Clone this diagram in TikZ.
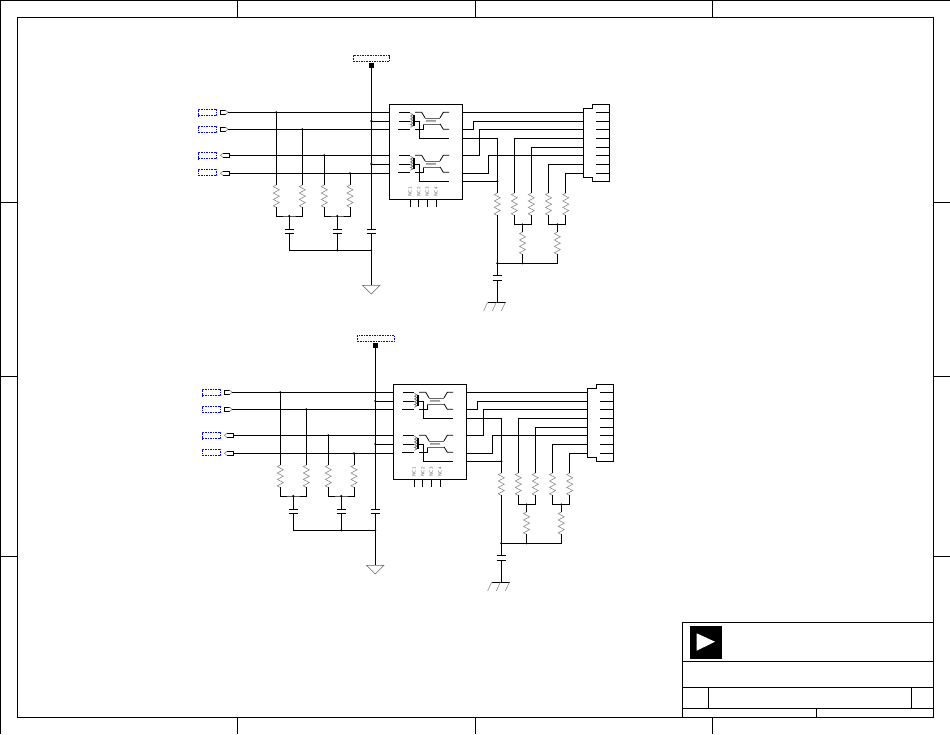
\documentclass[tikz,border=0pt]{standalone}
\tikzset{
  wire/.style={draw=black,line width=0.95pt},
  thin wire/.style={draw=black,line width=0.8pt},
  zig/.style={draw=black!45,line width=0.6pt,line join=miter},
  coil/.style={draw=black!60,line width=0.6pt},
  blue label/.style={draw=blue,dashed,dash pattern=on 1.6pt off 1pt,line width=0.7pt,inner sep=0pt,outer sep=0pt,anchor=north west},
  icbox/.style={draw=black,line width=0.95pt,inner sep=0pt,outer sep=0pt,minimum width=73pt,minimum height=95pt,anchor=north west},
  dot/.style={circle,fill=black,inner sep=0pt,minimum size=2.4pt},
  plate/.style={draw=black,line width=1pt},
  nctext/.style={rotate=90,text=black!60,inner sep=0pt,font=\sffamily\fontsize{4.8}{5}\selectfont}
}
% resistor: name, x, y top (22.4 tall)
\newcommand{\resistor}[3]{%
  \coordinate (#1-t) at (#2,#3);
  \coordinate (#1-b) at (#2,#3+22.4);
  \draw[zig] (#1-t) -- ++(-3,1.6) -- ++(6,3.2) -- ++(-6,3.2) -- ++(6,3.2) -- ++(-6,3.2) -- ++(6,3.2) -- ++(-6,3.2) -- (#1-b);
}
% transformer: y of top line
\newcommand{\xfmr}[1]{%
  \draw[thin wire] (399.3,#1) -- (410,#1);
  \draw[thin wire] (399.3,#1+8.7) -- (410,#1+8.7);
  \draw[thin wire] (398.3,#1+17) -- (410,#1+17);
  \draw[coil] (410.5,#1+1) -- ++(2.4,1.4) -- ++(-2.4,1.4) -- ++(2.4,1.4) -- ++(-2.4,1.4) -- ++(2.4,1.4) -- ++(-2.4,1.4) -- ++(2.4,1.4) -- ++(-2.4,1.4) -- ++(2.4,1.4) -- ++(-2.4,1.4);
  \draw[draw=black,line width=1.3pt] (413.9,#1+3) -- (413.9,#1+14);
  \draw[thin wire] (415,#1) -- (421.7,#1) -- (425,#1+5.5);
  \draw[coil] (425,#1+5.5) -- (440,#1+5.5);
  \draw[thin wire] (440,#1+5.5) -- (443.3,#1) -- (449,#1);
  \draw[thin wire] (415,#1+8.7) -- (419.3,#1+8.7) -- (419.3,#1+26) -- (449,#1+26);
  \draw[thin wire] (415,#1+17) -- (423,#1+17) -- (423,#1+11.5);
  \draw[coil] (423,#1+11.5) -- (440,#1+11.5);
  \draw[thin wire] (440,#1+11.5) -- (443.3,#1+17) -- (449,#1+17);
  \draw[coil,line width=.5pt] (426,#1+9.4) -- ++(1,-1.6) -- ++(1,1.6) -- ++(1,-1.6) -- ++(1,1.6) -- ++(1,-1.6) -- ++(1,1.6) -- ++(1,-1.6) -- ++(1,1.6) -- ++(1,-1.6) -- ++(1,1.6);
}
% input port: name, wire y, label centre y
\newcommand{\portR}[3]{%
  \node[blue label,minimum width=18.4pt,minimum height=6.4pt] (#1-lab) at (198.3,#3-3.2) {};
  \coordinate (#1-p) at (228.3,#2);
  \draw[thin wire] (225.5,#2-2) -- (220.3,#2-2) -- (220.3,#2+2) -- (225.5,#2+2);
  \draw[zig] (225.5,#2-2) -- (#1-p) -- (225.5,#2+2);
}
\newcommand{\portL}[3]{%
  \node[blue label,minimum width=18.4pt,minimum height=6.4pt] (#1-lab) at (198.3,#3-3.2) {};
  \coordinate (#1-p) at (229.3,#2);
  \draw[thin wire] (223,#2-2) -- (229.3,#2-2) -- (229.3,#2+2) -- (223,#2+2);
  \draw[zig] (223,#2-2) -- (220.3,#2) -- (223,#2+2);
}
% capacitor: name, x, y of plates
\newcommand{\capacitor}[3]{%
  \coordinate (#1-t) at (#2,#3);
  \coordinate (#1-b) at (#2,#3+4.4);
  \draw[plate] (#2-4.6,#3) -- (#2+4.6,#3);
  \draw[plate] (#2-4.6,#3+4.4) -- (#2+4.6,#3+4.4);
}
% whole circuit: prefix, top label width
\newcommand{\circuit}[2]{%
  % power label and square
  \node[blue label,minimum width=#2pt,minimum height=6pt] (#1top) at (353.3,55.6) {};
  \node[fill=black,inner sep=0pt,minimum width=5pt,minimum height=5pt] (#1sq) at (371.6,65.4) {};
  % ports
  \portR{#1a}{112.3}{112.5}
  \portR{#1b}{129.3}{129.3}
  \portL{#1c}{155.3}{155.5}
  \portL{#1d}{173.3}{172.2}
  % IC
  \node[icbox] (#1ic) at (389.3,104.3) {};
  \xfmr{112.3}
  \xfmr{155.3}
  \foreach \xx/\tt in {410/NC1,418.7/NC2,427.3/NC3,436/NC4}{
    \node[nctext] at (\xx,192) {\tt};
    \draw[thin wire] (\xx,199.3) -- (\xx,207.3);
  }
  % input resistors
  \resistor{#1ra}{276.3}{185}
  \resistor{#1rb}{302.3}{185}
  \resistor{#1rc}{324.3}{185}
  \resistor{#1rd}{350}{185}
  \foreach \rr/\pp in {ra/a,rb/b,rc/c,rd/d}{
    \path (#1\pp-p) -- (#1\pp-p -| #1\rr-t) coordinate (#1\rr-j);
    \draw[wire] (#1\rr-t) -- (#1\rr-j);
    \node[dot] at (#1\rr-j) {};
  }
  \foreach \pp in {a,b,c,d}{ \draw[wire] (#1\pp-p) -- (#1\pp-p -| #1ic.west); }
  % commons
  \coordinate (#1ab) at (289.3,216);
  \coordinate (#1cd) at (337.3,216);
  \draw[wire] (#1ra-b) |- (#1ab) -| (#1rb-b);
  \draw[wire] (#1rc-b) |- (#1cd) -| (#1rd-b);
  \capacitor{#1ca}{289.3}{229}
  \capacitor{#1cb}{337.3}{229}
  \capacitor{#1cc}{371.3}{229}
  \coordinate (#1gnd) at (371.3,285.3);
  \coordinate (#1rail) at (371.3,250.3);
  \draw[wire] (#1ab) -- (#1ca-t);
  \draw[wire] (#1cd) -- (#1cb-t);
  \draw[wire] (#1sq.south -| #1rail) -- (#1cc-t);
  \draw[wire] (#1cc-b) -- (#1gnd);
  \draw[wire] (#1ca-b) |- (#1rail);
  \draw[wire] (#1cb-b) -- (#1cb-b |- #1rail);
  \node[dot] at (#1ab) {};
  \node[dot] at (#1cd) {};
  \node[dot] at (#1cb-b |- #1rail) {};
  \node[dot,minimum size=2pt] at (#1rail) {};
  \draw[zig,draw=black!60] (#1gnd) ++(-8.7,0) -- ++(17.4,0) -- ++(-8.7,8.7) -- cycle;
  % center taps
  \foreach \yy in {121,164}{
    \draw[wire] (371.3,\yy) -- (#1ic.west |- 0,\yy);
    \node[dot] at (371.3,\yy) {};
  }
  % output connector
  \draw[wire] (583.3,108.3) -- (592.3,108.3) -- (592.3,104.3) -- (609.7,104.3) -- (609.7,181.3) -- (592.3,181.3) -- (592.3,177.3) -- (583.3,177.3) -- cycle;
  \foreach \n/\yy in {1/112.3,2/121,3/129.3,4/138.3,5/147,6/155.3,7/164,8/173}{
    \coordinate (#1con\n) at (583.3,\yy);
    \draw[thin wire] (596,\yy) -- (609.7,\yy);
  }
  % output resistors
  \resistor{#1rv}{497.3}{193}
  \resistor{#1rw}{514.3}{193}
  \resistor{#1rx}{531.3}{193}
  \resistor{#1ry}{548.5}{193}
  \resistor{#1rz}{565.8}{193}
  \resistor{#1rp}{522.5}{232}
  \resistor{#1rq}{557.3}{232}
  \draw[wire] (#1ic.east |- #1con1) -- (#1con1);
  \draw[wire] (#1ic.east |- 0,129.3) -- (473.3,129.3) |- (#1con2);
  \draw[wire] (#1ic.east |- 0,155.3) -- (479.3,155.3) |- (#1con3);
  \draw[wire] (#1ic.east |- 0,173) -- (488.3,173) |- (#1con6);
  \draw[wire] (#1ic.east |- 0,138.3) -| (#1rv-t);
  \draw[wire] (#1ic.east |- 0,181.3) -- (#1rv-t |- 0,181.3);
  \node[dot] at (#1rv-t |- 0,181.3) {};
  \draw[wire] (#1rw-t) |- (#1con4);
  \draw[wire] (#1rx-t) |- (#1con5);
  \draw[wire] (#1ry-t) |- (#1con7);
  \draw[wire] (#1rz-t) |- (#1con8);
  \coordinate (#1wx) at (522.5,224.3);
  \coordinate (#1yz) at (557.3,224.3);
  \draw[wire] (#1rw-b) |- (#1wx) -| (#1rx-b);
  \draw[wire] (#1ry-b) |- (#1yz) -| (#1rz-b);
  \draw[wire] (#1wx) -- (#1rp-t);
  \draw[wire] (#1yz) -- (#1rq-t);
  \node[dot,minimum size=2pt] at (#1wx) {};
  \node[dot,minimum size=2pt] at (#1yz) {};
  \coordinate (#1low) at (497.3,263.3);
  \draw[wire] (#1rv-b) -- (#1low);
  \draw[wire] (#1low) -| (#1rp-b);
  \draw[wire] (#1low) -| (#1rq-b);
  \node[dot] at (#1low) {};
  \node[dot,minimum size=2pt] at (#1rp-b |- #1low) {};
  \capacitor{#1ce}{497.3}{275.8}
  \draw[wire] (#1low) -- (#1ce-t);
  \coordinate (#1earth) at (497.3,302.3);
  \draw[wire] (#1ce-b) -- (#1earth);
  \draw[wire] (#1earth) ++(-9.7,0) -- ++(18,0);
  \foreach \dx in {-9.7,-1,8}{
    \draw[zig] (#1earth) ++(\dx,0) -- ++(-4,8.7);
  }
}
\begin{document}
\begin{tikzpicture}[x=1pt,y=-1pt]
  \useasboundingbox (0,0) rectangle (950,734);
  \fill[white] (0,0) rectangle (950,734);
  % sheet frame
  \draw[wire] (0.5,734) -- (0.5,0.5) -- (950,0.5);
  \draw[wire] (17.5,17.5) rectangle (933.3,717.3);
  \foreach \xx in {237.5,475.5,712.5}{
    \draw[wire] (\xx,0.5) -- (\xx,17.5);
    \draw[wire] (\xx,717.3) -- (\xx,734);
  }
  \foreach \yy in {202.5,376.5,556.5}{
    \draw[wire] (0.5,\yy) -- (17.5,\yy);
    \draw[wire] (933.3,\yy) -- (950,\yy);
  }
  % circuits
  \begin{scope}
    \circuit{u}{36}
  \end{scope}
  \begin{scope}[shift={(4,280)}]
    \circuit{v}{37.4}
  \end{scope}
  % title block
  \draw[wire] (682.3,717.3) -- (682.3,622.3) -- (933.3,622.3);
  \draw[wire] (682.3,661.3) -- (933.3,661.3);
  \draw[wire] (682.3,687.3) -- (933.3,687.3);
  \draw[wire] (682.3,708.3) -- (933.3,708.3);
  \draw[wire] (708.3,686.5) -- (708.3,708.3);
  \draw[wire] (911.3,687.3) -- (911.3,708.3);
  \draw[wire] (816.3,708.3) -- (816.3,717.3);
  \fill[black] (690,626) rectangle (722.3,659);
  \fill[white] (696.7,633.3) -- (715,641.7) -- (696.7,650.7) -- cycle;
\end{tikzpicture}
\end{document}
